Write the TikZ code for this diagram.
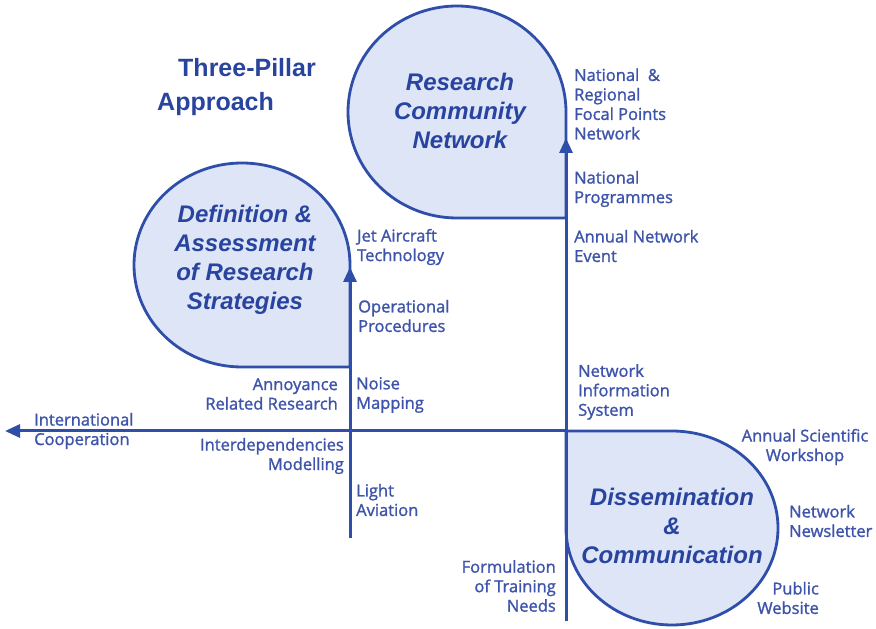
\documentclass[tikz,border=0pt]{standalone}
\usepackage{fontspec}
\setmainfont{Open Sans}
\newfontfamily\itemfont{Open Sans}[FakeBold=1.4]
\newfontfamily\headfont{Liberation Sans}
\usetikzlibrary{arrows.meta}

\definecolor{pillarline}{RGB}{46,78,170}
\definecolor{pillarfill}{RGB}{221,229,247}
\definecolor{pillarhead}{RGB}{40,68,158}
\definecolor{pillartext}{RGB}{62,84,170}

\begin{document}
\begin{tikzpicture}[x=1pt,y=1pt,
    spine/.style={draw=pillarline,line width=3pt},
    pillar/.style={fill=pillarfill,draw=pillarline,line width=2.8pt},
    tip/.style={-{Triangle[length=15pt,width=13pt]}},
    item/.style={text=pillartext,font=\itemfont\fontsize{16.5}{19.5}\selectfont,inner sep=0pt},
    head/.style={text=pillarhead,font=\headfont\bfseries\itshape\fontsize{24}{29}\selectfont,align=center,inner sep=0pt},
    banner/.style={text=pillarhead,font=\headfont\bfseries\fontsize{25}{30}\selectfont,inner sep=0pt,anchor=west}]

\useasboundingbox (0,0) rectangle (876,629);

% the three pillars
\filldraw[pillar] (566,517) arc[start angle=0,end angle=270,x radius=109,y radius=106] -- (566,411) -- cycle;
\filldraw[pillar] (350,364) arc[start angle=0,end angle=270,x radius=108,y radius=102] -- (350,262) -- cycle;
\filldraw[pillar] (566,198) -- (672,198) arc[start angle=90,end angle=-180,x radius=106,y radius=97] -- cycle;

% axes
\coordinate (hub) at (566,198);
\coordinate (west) at (5,198);
\coordinate (leftfoot) at (350,91);
\coordinate (lefttop) at (350,362);
\coordinate (rightfoot) at (566,8);
\coordinate (righttop) at (566,491);

\draw[spine,tip] (hub) -- (west);
\draw[spine,tip] (leftfoot) -- (lefttop);
\draw[spine,tip] (rightfoot) -- (righttop);

% pillar titles
\node[head] (rcn) at (460,518) {Research\\Community\\Network};
\node[head] (das) at (245,369) {Definition \&\\Assessment\\of Research\\Strategies};
\node[head] (dc) at (672,103) {Dissemination\\\&\\Communication};

\node[banner] (three) at (178,561) {Three-Pillar};
\node[banner] (approach) at (157,525) {Approach};

% activities along the axes
\node[item,anchor=west,align=left] (focal) at (574,525) {National\ \ \&\\Regional\\Focal Points\\Network};
\node[item,anchor=west,align=left] (progs) at (574,440) {National\\Programmes};
\node[item,anchor=west,align=left] (event) at (574,383) {Annual Network\\Event};
\node[item,anchor=west,align=left] (nis) at (578,237) {Network\\Information\\System};

\node[item,anchor=west,align=left] (jet) at (357,382) {Jet Aircraft\\Technology};
\node[item,anchor=west,align=left] (ops) at (358,313) {Operational\\Procedures};
\node[item,anchor=west,align=left] (noise) at (356,234) {Noise\\Mapping};
\node[item,anchor=west,align=left] (light) at (356,129) {Light\\Aviation};
\node[item,anchor=east,align=right] (annoy) at (338,235) {Annoyance\\Related Research};
\node[item,anchor=east,align=right] (interdep) at (344,173) {Interdependencies\\Modelling};
\node[item,anchor=west,align=left] (intl) at (34,198) {International\\Cooperation};

\node[item,anchor=east,align=right] (training) at (556,43) {Formulation\\of Training\\Needs};
\node[item,align=center] (workshop) at (805,182) {Annual Scientific\\Workshop};
\node[item,anchor=west,align=left] (newsletter) at (789,108) {Network\\Newsletter};
\node[item,anchor=east,align=right] (website) at (819,31) {Public\\Website};

\end{tikzpicture}
\end{document}
